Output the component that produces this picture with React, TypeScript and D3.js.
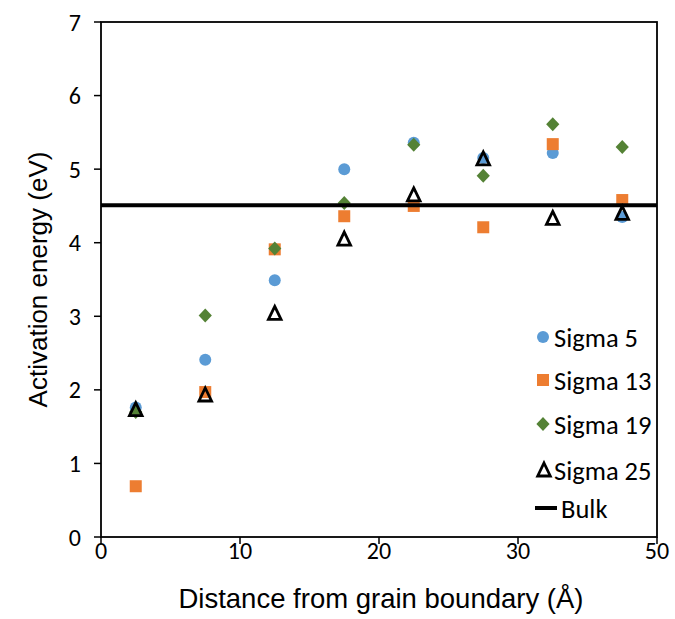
import React from "react";
import * as d3 from "d3";

const distances = [2.5, 7.5, 12.5, 17.5, 22.5, 27.5, 32.5, 37.5];
const sigma5 = [1.76, 2.41, 3.49, 5.0, 5.36, 5.15, 5.22, 4.35];
const sigma13 = [0.69, 1.97, 3.91, 4.36, 4.5, 4.21, 5.34, 4.58];
const sigma19 = [1.7, 3.01, 3.92, 4.54, 5.33, 4.91, 5.61, 5.3];
const sigma25 = [1.73, 1.93, 3.04, 4.05, 4.65, 5.14, 4.33, 4.4];
const bulk = 4.51;

const xTickValues = [0, 10, 20, 30, 40];
const xTickLabels = ["0", "10", "20", "30", "50"];
const yTickValues = [0, 1, 2, 3, 4, 5, 6, 7];

const legendNames = ["Sigma 5", "Sigma 13", "Sigma 19", "Sigma 25", "Bulk"];

const FONT = "Carlito, Lato, 'Open Sans', sans-serif";
const TITLE_FONT = "'Liberation Sans', Arial, sans-serif";

export default function App() {
  const left = 101, right = 657, top = 22, bottom = 537;
  const x = d3.scaleLinear().domain([0, 40]).range([left, right]);
  const y = d3.scaleLinear().domain([0, 7]).range([bottom, top]);

  const tri = "M0,-7.5L6.3,5.5L-6.3,5.5Z";
  const diamond = "M0,-7L6.6,0L0,7L-6.6,0Z";

  const marker = (kind: string, cx: number, cy: number, key: string) => {
    if (kind === "circle")
      return <circle key={key} cx={cx} cy={cy} r={6} fill="#5B9BD5" />;
    if (kind === "square")
      return <rect key={key} x={cx - 6} y={cy - 6} width={12} height={12} fill="#ED7D31" />;
    if (kind === "diamond")
      return <path key={key} d={diamond} transform={`translate(${cx},${cy})`} fill="#548235" />;
    if (kind === "triangle")
      return (
        <path key={key} d={tri} transform={`translate(${cx},${cy + 0.5})`} fill="none" stroke="#000" strokeWidth={2.8} strokeLinejoin="miter" />
      );
    return null;
  };

  const series = [
    { vals: sigma5, kind: "circle" },
    { vals: sigma13, kind: "square" },
    { vals: sigma19, kind: "diamond" },
    { vals: sigma25, kind: "triangle" },
  ];

  const legendY = [337, 380, 424, 470, 508];
  const kinds = ["circle", "square", "diamond", "triangle"];

  return (
    <svg width={675} height={619} style={{ position: "absolute", left: 0, top: 0 }} fontFamily={FONT}>
      <rect x={0} y={0} width={675} height={619} fill="#fff" />
      {/* frame */}
      <rect x={left} y={top} width={right - left} height={bottom - top} fill="none" stroke="#000" strokeWidth={1.8} />
      {/* y ticks */}
      {yTickValues.map((v) => (
        <g key={"y" + v}>
          <line x1={left - 7} x2={left} y1={y(v)} y2={y(v)} stroke="#000" strokeWidth={1.5} />
          <text x={left - 20} y={y(v)} dy="0.36em" textAnchor="end" fontSize={24} fill="#000">
            {v}
          </text>
        </g>
      ))}
      {/* x ticks */}
      {xTickValues.map((v, i) => (
        <g key={"x" + v}>
          <line x1={x(v)} x2={x(v)} y1={bottom} y2={bottom + 7} stroke="#000" strokeWidth={1.5} />
          <text x={x(v)} y={bottom + 22} textAnchor="middle" fontSize={24} fill="#000">
            {xTickLabels[i]}
          </text>
        </g>
      ))}
      {/* titles */}
      <text x={381} y={608} textAnchor="middle" fontSize={27.5} fill="#000" fontFamily={TITLE_FONT}>
        Distance from grain boundary (Å)
      </text>
      <text transform={`translate(47,${(top + bottom) / 2}) rotate(-90)`} textAnchor="middle" fontSize={26} fill="#000" fontFamily={TITLE_FONT}>
        Activation energy (eV)
      </text>
      {/* markers */}
      {series.map((s, si) =>
        s.vals.map((v, i) => marker(s.kind, x(distances[i]), y(v), `m${si}-${i}`))
      )}
      {/* bulk line */}
      <line x1={left} x2={right} y1={y(bulk)} y2={y(bulk)} stroke="#000" strokeWidth={4} />
      {/* legend */}
      {legendNames.map((name, i) => {
        const ly = legendY[i];
        return (
          <g key={name}>
            {i < 4 ? (
              marker(kinds[i], i === 3 ? 544 : 543, ly, "lg" + i)
            ) : (
              <line x1={535} x2={557} y1={ly} y2={ly} stroke="#000" strokeWidth={4} />
            )}
            <text x={i === 4 ? 561 : 554} y={ly} dy="0.36em" fontSize={26.5} fill="#000">
              {name}
            </text>
          </g>
        );
      })}
    </svg>
  );
}
